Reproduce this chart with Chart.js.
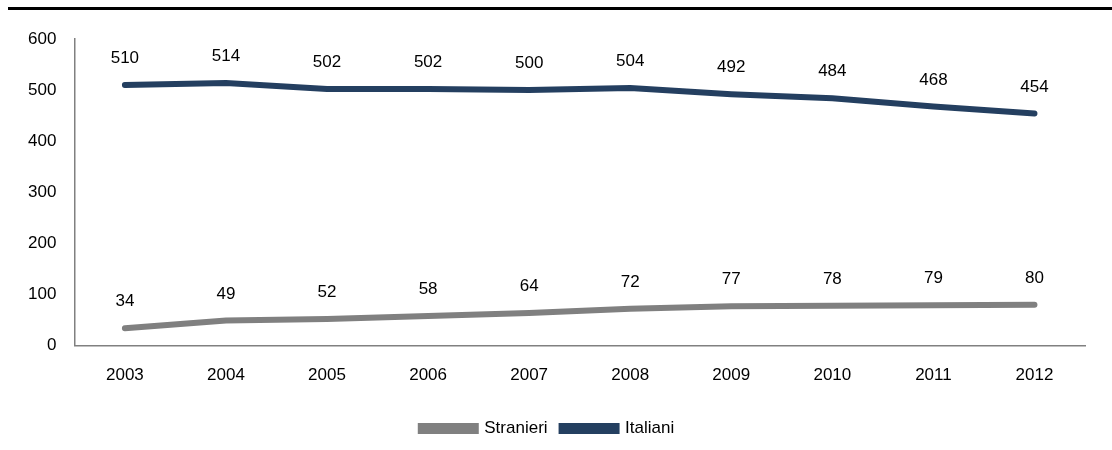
<!DOCTYPE html>
<html>
<head>
<meta charset="utf-8">
<script src="https://cdn.jsdelivr.net/npm/chart.js@4/dist/chart.umd.min.js"></script>
<style>
  html, body { margin: 0; padding: 0; background: #fff; }
  #wrap { position: relative; width: 1112px; height: 450px; }
  #topLine { position: absolute; left: 8px; right: 0; top: 7px; height: 3px; background: #000; }
</style>
</head>
<body>
<div id="wrap">
  <div id="topLine"></div>
  <canvas id="lineChart" width="1112" height="450"></canvas>
</div>
<script>
var years = ['2003', '2004', '2005', '2006', '2007', '2008', '2009', '2010', '2011', '2012'];
var stranieri = [34, 49, 52, 58, 64, 72, 77, 78, 79, 80];
var italiani = [510, 514, 502, 502, 500, 504, 492, 484, 468, 454];
var yTicks = [0, 100, 200, 300, 400, 500, 600];

var fontFamily = '"Liberation Sans Narrow", "Arial Narrow", "Liberation Sans", Arial, sans-serif';

// draws the value above each point
var pointLabels = {
    id: 'pointLabels',
    afterDatasetsDraw: function (chart) {
        var ctx = chart.ctx;
        ctx.save();
        ctx.fillStyle = '#000000';
        ctx.font = '17px ' + fontFamily;
        ctx.textAlign = 'center';
        ctx.textBaseline = 'bottom';
        chart.data.datasets.forEach(function (ds, i) {
            var meta = chart.getDatasetMeta(i);
            meta.data.forEach(function (pt, j) {
                ctx.fillText(ds.data[j], pt.x, pt.y - 18);
            });
        });
        ctx.restore();
    }
};

var ctx = document.getElementById('lineChart').getContext('2d');

var myChart = new Chart(ctx, {
    type: 'line',
    data: {
        labels: years,
        datasets: [
            {
                label: 'Stranieri',
                data: stranieri,
                borderColor: '#808080',
                backgroundColor: '#808080',
                borderWidth: 6,
                borderCapStyle: 'round',
                pointRadius: 0,
                tension: 0
            },
            {
                label: 'Italiani',
                data: italiani,
                borderColor: '#243f60',
                backgroundColor: '#243f60',
                borderWidth: 6,
                borderCapStyle: 'round',
                pointRadius: 0,
                tension: 0
            }
        ]
    },
    options: {
        responsive: false,
        animation: false,
        layout: {
            padding: {
                left: 10,
                right: 27,
                top: 39,
                bottom: 3
            }
        },
        plugins: {
            legend: {
                position: 'bottom',
                labels: {
                    boxWidth: 55,
                    boxHeight: 5,
                    padding: 14,
                    color: '#000000',
                    font: { size: 17, family: fontFamily }
                }
            },
            tooltip: { enabled: false }
        },
        scales: {
            y: {
                min: 0,
                max: 600,
                afterBuildTicks: function (axis) {
                    axis.ticks = yTicks.map(function (v) { return { value: v }; });
                },
                ticks: {
                    padding: 18,
                    color: '#000000',
                    font: { size: 17, family: fontFamily }
                },
                grid: {
                    display: false,
                    drawTicks: false
                },
                border: {
                    display: true,
                    color: '#808080',
                    width: 1.5
                }
            },
            x: {
                offset: true,
                ticks: {
                    padding: 20,
                    maxRotation: 0,
                    color: '#000000',
                    font: { size: 17, family: fontFamily }
                },
                grid: {
                    display: false,
                    drawTicks: false
                },
                border: {
                    display: true,
                    color: '#808080',
                    width: 1.5
                }
            }
        }
    },
    plugins: [pointLabels]
});
</script>
</body>
</html>
